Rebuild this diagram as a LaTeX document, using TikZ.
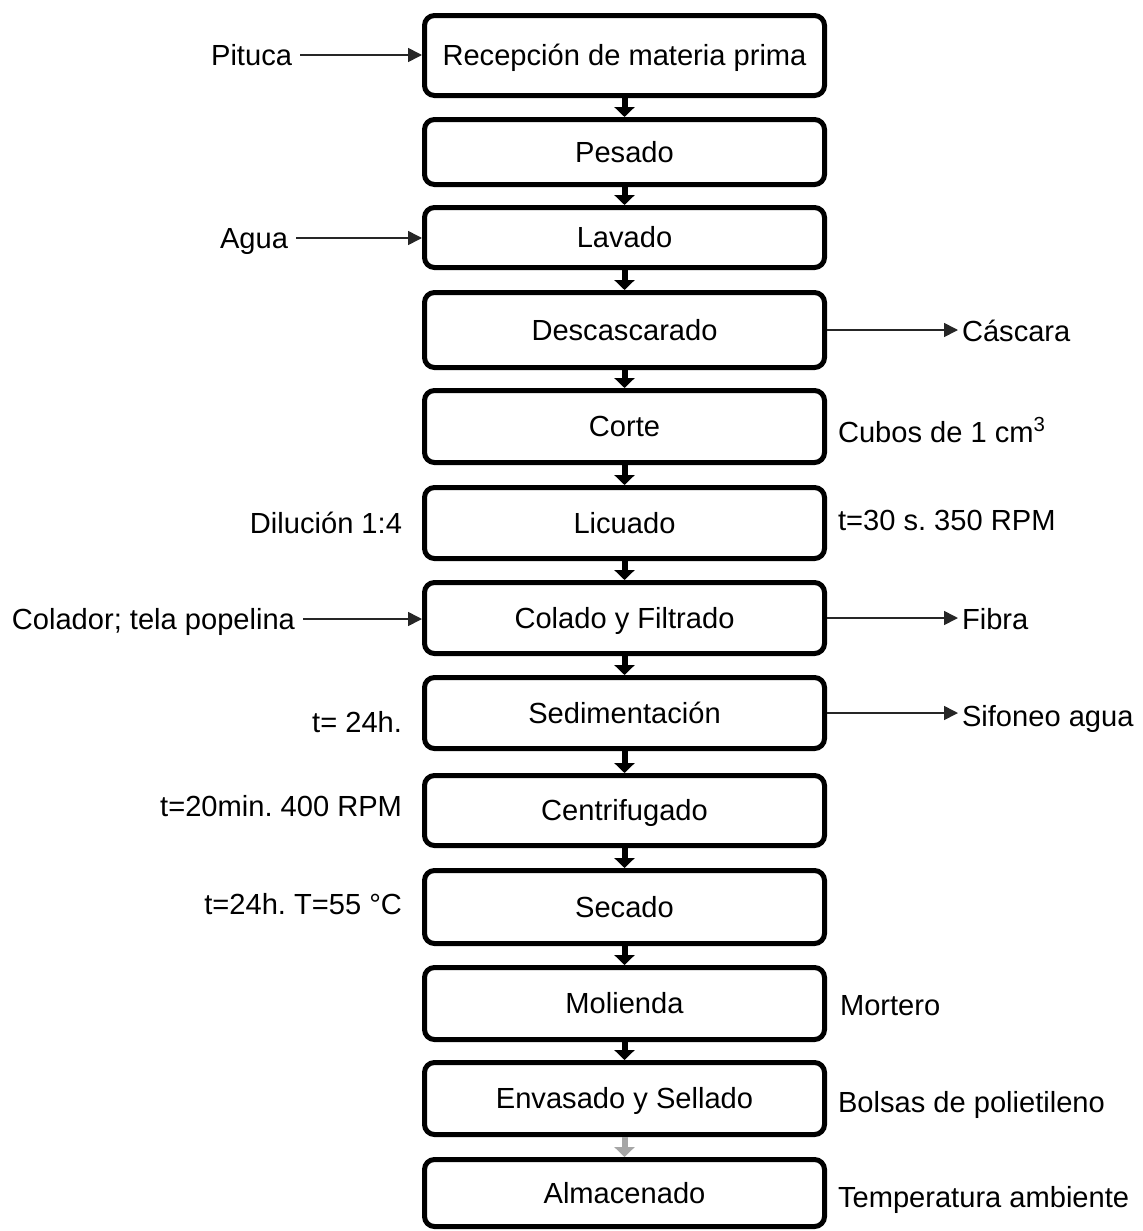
\documentclass[tikz,border=0pt]{standalone}
\usepackage{fontspec}
\setmainfont{Liberation Sans}
\usetikzlibrary{arrows.meta}
\definecolor{arrowgray}{HTML}{A6A6A6}
\definecolor{sidegray}{HTML}{262626}
\frenchspacing
\begin{document}
\begin{tikzpicture}[x=0.5pt,y=-0.5pt,
  every node/.style={font=\fontsize{14.55}{17}\selectfont, text height=10.4pt, text depth=0pt},
  stepbox/.style={draw, line width=2.5pt, rounded corners=5pt, minimum width=200pt, inner sep=0pt, outer sep=1.25pt},
  leftlab/.style={inner sep=0pt, outer sep=4pt, anchor=east},
  rightlab/.style={inner sep=0pt, outer sep=2pt, anchor=west},
  flow/.style={line width=3pt, -{Triangle[width=10pt,length=5pt]}},
  side/.style={line width=0.8pt, sidegray, -{Triangle[width=7pt,length=7pt]}}]
\useasboundingbox (0,0) rectangle (1142,1231);

% process boxes
\node[stepbox, minimum height=40pt]   (b1)  at (624.5,55.5)  {Recepción de materia prima};
\node[stepbox, minimum height=32.5pt] (b2)  at (624.5,152)   {Pesado};
\node[stepbox, minimum height=30pt]   (b3)  at (624.5,237.5) {Lavado};
\node[stepbox, minimum height=37.5pt] (b4)  at (624.5,330)   {Descascarado};
\node[stepbox, minimum height=36pt]   (b5)  at (624.5,426.5) {Corte};
\node[stepbox, minimum height=35.5pt] (b6)  at (624.5,523)   {Licuado};
\node[stepbox, minimum height=35.5pt] (b7)  at (624.5,618)   {Colado y Filtrado};
\node[stepbox, minimum height=35.5pt] (b8)  at (624.5,713)   {Sedimentación};
\node[stepbox, minimum height=35pt]   (b9)  at (624.5,810.5) {Centrifugado};
\node[stepbox, minimum height=36.5pt] (b10) at (624.5,907)   {Secado};
\node[stepbox, minimum height=36pt]   (b11) at (624.5,1003.5){Molienda};
\node[stepbox, minimum height=36pt]   (b12) at (624.5,1098.5){Envasado y Sellado};
\node[stepbox, minimum height=33.5pt] (b13) at (624.5,1193)  {Almacenado};

% flow arrows
\draw[flow] (b1) -- (b2);
\draw[flow] (b2) -- (b3);
\draw[flow] (b3) -- (b4);
\draw[flow] (b4) -- (b5);
\draw[flow] (b5) -- (b6);
\draw[flow] (b6) -- (b7);
\draw[flow] (b7) -- (b8);
\draw[flow] (b8) -- (b9);
\draw[flow] (b9) -- (b10);
\draw[flow] (b10) -- (b11);
\draw[flow] (b11) -- (b12);
\draw[flow, arrowgray] (b12) -- (b13);

% left labels
\node[leftlab] (pituca)  at (300,55)  {Pituca};
\node[leftlab] (agua)    at (296,238) {Agua};
\node[leftlab] (colador) at (303,619) {Colador; tela popelina};
\node[leftlab] (dil)     at (410,523) {Dilución 1:4};
\node[leftlab] (sedt)    at (410,722) {t= 24h.};
\node[leftlab] (cent)    at (410,806) {t=20min. 400 RPM};
\node[leftlab] (sect)    at (410,904) {t=24h. T=55 °C};

\draw[side] (pituca.east) -- (pituca.east -| b1.west);
\draw[side] (agua.east) -- (agua.east -| b3.west);
\draw[side] (colador.east) -- (colador.east -| b7.west);

% right labels
\node[rightlab] (cascara) at (958,331)  {Cáscara};
\node[rightlab] (cubos)   at (834,432)  {Cubos de 1 cm\textsuperscript{3}};
\node[rightlab] (licp)    at (834,520)  {t=30 s. 350 RPM};
\node[rightlab] (fibra)   at (958,619)  {Fibra};
\node[rightlab] (sifon)   at (958,716)  {Sifoneo agua};
\node[rightlab] (mortero) at (836,1005) {Mortero};
\node[rightlab] (bolsas)  at (834,1102) {Bolsas de polietileno};
\node[rightlab] (temp)    at (834,1197) {Temperatura ambiente};

\draw[side] (b4.east) -- (b4.east -| cascara.west);
\draw[side] (b7.east) -- (b7.east -| fibra.west);
\draw[side] (b8.east) -- (b8.east -| sifon.west);
\end{tikzpicture}
\end{document}
